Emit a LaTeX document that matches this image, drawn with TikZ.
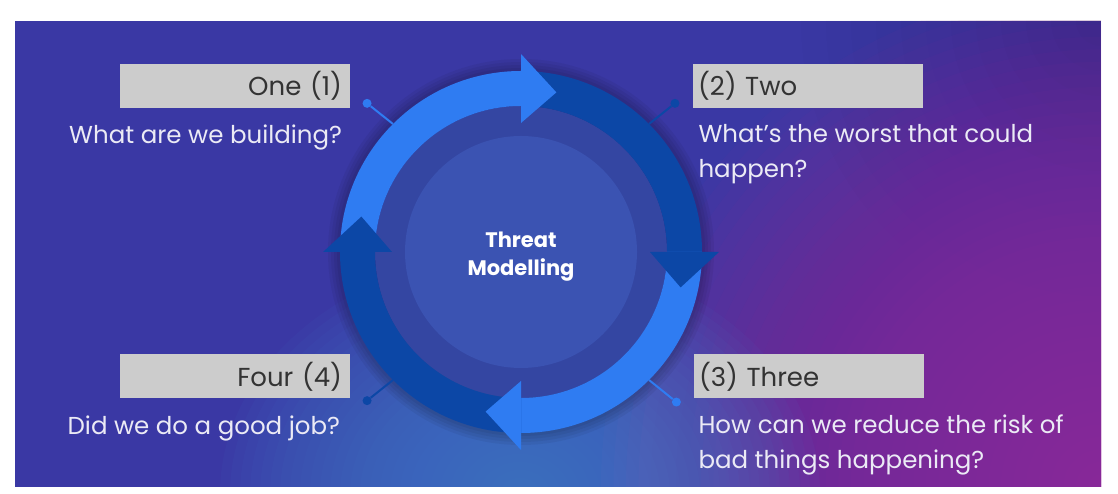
\documentclass[tikz,border=0pt]{standalone}
\usepackage{fontspec}
\setmainfont{Poppins}

\definecolor{bgindigo}{HTML}{3A38A4}
\definecolor{bgmagenta}{HTML}{9A2898}
\definecolor{bgglow}{HTML}{4A80CC}
\definecolor{lightarrow}{HTML}{2F7CF2}
\definecolor{darkarrow}{HTML}{0C47A6}
\definecolor{ringshade}{HTML}{3446A2}
\definecolor{innerdisk}{HTML}{3B53B2}
\definecolor{boxgray}{HTML}{CCCCCC}
\definecolor{labeltext}{HTML}{333333}
\definecolor{questiontext}{HTML}{EBEAF5}

\begin{document}
\begin{tikzpicture}[x=1pt,y=1pt,
	label box/.style={fill=boxgray,minimum width=230pt,minimum height=44pt,inner sep=0pt,text=labeltext,font=\fontsize{26}{32}\selectfont},
	question/.style={text=questiontext,inner sep=0pt,font=\fontsize{24.5}{35}\selectfont},
	joint dot/.style={circle,fill=#1,minimum size=9pt,inner sep=0pt},
	connector/.style={draw=#1,line width=2pt},
	title text/.style={text=white,align=center,font=\fontsize{21}{28}\selectfont\bfseries}]
	\useasboundingbox (0,0) rectangle (1118,494);
	% background
	\fill[bgindigo] (15,7) rectangle (1101,473);
	\begin{scope}
		\clip (15,7) rectangle (1101,473);
		\foreach \i in {1,...,12}
			\fill[black,fill opacity=0.008] (1101,473) circle ({25*\i});
		\foreach \i in {1,...,40}
			\fill[bgmagenta,fill opacity=0.05] (1101,7) circle ({12.5*\i});
		\foreach \i in {1,...,30}
			\fill[bgglow,fill opacity=0.06] (520,0) ellipse ({10*\i} and {8*\i});
	\end{scope}
	% the cycle
	\coordinate (hub) at (521,242);
	\begin{scope}[shift={(hub)}]
		\foreach \r in {184,187,190,193}
			\fill[black,fill opacity=0.05] (0,0) circle (\r);
		\fill[ringshade] (0,0) circle (146);
		\fill[innerdisk] (0,0) circle (116);
		\foreach \a/\c in {180/lightarrow,90/darkarrow,0/lightarrow,-90/darkarrow}
			\fill[\c] (\a:181) arc[start angle=\a,end angle=\a-90,radius=181]
				-- ({\a-90}:146) arc[start angle=\a-90,end angle=\a,radius=146] -- cycle;
		\foreach \a/\c in {180/lightarrow,90/darkarrow,0/lightarrow,-90/darkarrow}
			\fill[\c] ({\a-90}:129) -- ({\a-90}:198) -- ({\a-102.5}:163.5) -- cycle;
	\end{scope}
	\node[title text] (title) at ([yshift=-5pt]hub) {Threat\\Modelling};
	% labels
	\node[label box,align=right,text width=214pt] (box1) at (235,408) {One (1)};
	\node[label box,align=left,text width=219pt] (box2) at (807.5,408) {(2) Two};
	\node[label box,align=left,text width=219pt] (box3) at (808.5,117.5) {(3) Three};
	\node[label box,align=right,text width=214pt] (box4) at (235,117.5) {Four (4)};
	% questions
	\node[question,anchor=base east] (q1) at ([xshift=-8pt,yshift=-35pt]box1.south east) {What are we building?};
	\node[question,anchor=base west,align=left] (q2) at ([xshift=6pt,yshift=-69pt]box2.south west) {What’s the worst that could\\happen?};
	\node[question,anchor=base west,align=left] (q3) at ([xshift=5pt,yshift=-70pt]box3.south west) {How can we reduce the risk of\\bad things happening?};
	\node[question,anchor=base east] (q4) at ([xshift=-10pt,yshift=-36pt]box4.south east) {Did we do a good job?};
	% connectors
	\coordinate (rim1) at ([shift={(135:181)}]hub);
	\coordinate (rim2) at ([shift={(45:181)}]hub);
	\coordinate (rim3) at ([shift={(-45:181)}]hub);
	\coordinate (rim4) at ([shift={(225:181)}]hub);
	\node[joint dot=lightarrow] (dot1) at ([shift={(136:214)}]hub) {};
	\node[joint dot=darkarrow] (dot2) at ([shift={(44:214)}]hub) {};
	\node[joint dot=lightarrow] (dot3) at ([shift={(-44:216)}]hub) {};
	\node[joint dot=darkarrow] (dot4) at ([shift={(224:214)}]hub) {};
	\draw[connector=lightarrow] (rim1) -- (dot1);
	\draw[connector=darkarrow] (rim2) -- (dot2);
	\draw[connector=lightarrow] (rim3) -- (dot3);
	\draw[connector=darkarrow] (rim4) -- (dot4);
\end{tikzpicture}
\end{document}
